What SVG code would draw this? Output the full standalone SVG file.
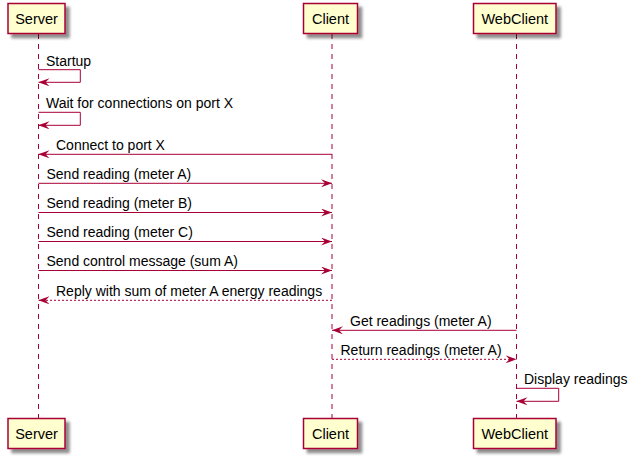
<svg xmlns="http://www.w3.org/2000/svg" width="639" height="459" viewBox="0 0 639 459">
<defs>
<filter id="sh" x="-10%" y="-20%" width="130%" height="160%">
<feGaussianBlur in="SourceAlpha" stdDeviation="1.7" result="b"/>
<feOffset in="b" dx="4" dy="4" result="o"/>
<feComponentTransfer in="o" result="o2"><feFuncA type="linear" slope="0.45"/></feComponentTransfer>
<feMerge><feMergeNode in="o2"/><feMergeNode in="SourceGraphic"/></feMerge>
</filter>
<marker id="ah" viewBox="0 0 11 8" refX="11" refY="4" markerWidth="11" markerHeight="8" markerUnits="userSpaceOnUse" orient="auto">
<polygon points="0,0 11,4 0,8 4,4" fill="#A80036"/>
</marker>
</defs>
<style>
.box{fill:#FEFECE;stroke:#A80036;stroke-width:1.5;filter:url(#sh)}
.pt{font-family:"Liberation Sans",Arial,sans-serif;font-size:14.5px;fill:#000;text-anchor:middle}
.life{stroke:#A80036;stroke-width:1;stroke-dasharray:5,5;fill:none}
.msg{stroke:#A80036;stroke-width:1;fill:none;marker-end:url(#ah)}
.dot{stroke-dasharray:2,2}
.mt{font-family:"Liberation Sans",Arial,sans-serif;font-size:14px;fill:#000}
</style>
<g id="lifelines">
<line class="life" x1="38.5" y1="34" x2="38.5" y2="418"/>
<line class="life" x1="332" y1="34" x2="332" y2="418"/>
<line class="life" x1="516.5" y1="34" x2="516.5" y2="418"/>
</g>
<g id="Server">
<rect class="box" x="8" y="3.5" width="57" height="30"/>
<text class="pt" x="36.5" y="23.5">Server</text>
<rect class="box" x="8" y="418.5" width="57" height="30"/>
<text class="pt" x="36.5" y="438.5">Server</text>
</g>
<g id="Client">
<rect class="box" x="303.5" y="3.5" width="54" height="30"/>
<text class="pt" x="330.5" y="23.5">Client</text>
<rect class="box" x="303.5" y="418.5" width="54" height="30"/>
<text class="pt" x="330.5" y="438.5">Client</text>
</g>
<g id="WebClient">
<rect class="box" x="473.5" y="3.5" width="82.5" height="30"/>
<text class="pt" x="514.75" y="23.5">WebClient</text>
<rect class="box" x="473.5" y="418.5" width="82.5" height="30"/>
<text class="pt" x="514.75" y="438.5">WebClient</text>
</g>
<g id="connectors">
<path class="msg" d="M38.5,69.7 H80.3 V82.3 H38.5"/>
<text class="mt" x="46" y="65.5">Startup</text>
<path class="msg" d="M38.5,112.3 H80.3 V125.3 H38.5"/>
<text class="mt" x="46" y="108">Wait for connections on port X</text>
<path class="msg" d="M332,154.3 H38.5"/>
<text class="mt" x="56" y="149.5">Connect to port X</text>
<path class="msg" d="M38.5,183.3 H332"/>
<text class="mt" x="46.5" y="178.5">Send reading (meter A)</text>
<path class="msg" d="M38.5,212.5 H332"/>
<text class="mt" x="46.5" y="207.5">Send reading (meter B)</text>
<path class="msg" d="M38.5,241.5 H332"/>
<text class="mt" x="46.5" y="236.5">Send reading (meter C)</text>
<path class="msg" d="M38.5,270.5 H332"/>
<text class="mt" x="46.5" y="265.5">Send control message (sum A)</text>
<path class="msg dot" d="M332,300.3 H38.5"/>
<text class="mt" x="56" y="295.5">Reply with sum of meter A energy readings</text>
<path class="msg" d="M516.5,330.3 H332"/>
<text class="mt" x="350" y="325.5">Get readings (meter A)</text>
<path class="msg dot" d="M332,359.3 H516.5"/>
<text class="mt" x="340.5" y="354.5">Return readings (meter A)</text>
<path class="msg" d="M516.5,388.3 H558.7 V401.3 H516.5"/>
<text class="mt" x="524" y="384">Display readings</text>
</g>
</svg>
